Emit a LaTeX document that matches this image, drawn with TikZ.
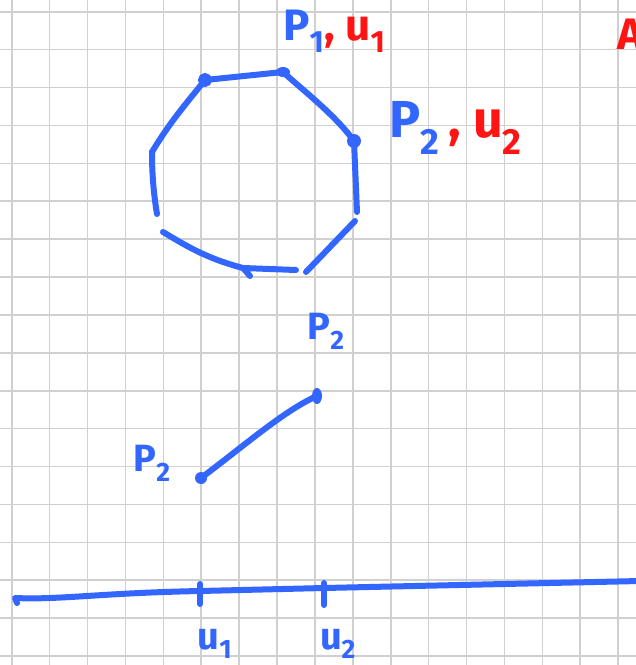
\documentclass[tikz,border=0pt]{standalone}
\usepackage{fontspec}
\setmainfont{Fira Sans}
\definecolor{pen}{HTML}{3366FF}
\definecolor{redpen}{HTML}{FF1414}
\definecolor{gridc}{HTML}{D0D0D0}
\begin{document}
\begin{tikzpicture}[x=1pt,y=-1pt,
  stroke/.style={draw=pen,line width=6pt,line cap=round,line join=round},
  dotmark/.style={fill=pen},
  biglbl/.style={inner sep=0pt,font=\fontsize{44}{48}\selectfont\bfseries},
  hugelbl/.style={inner sep=0pt,font=\fontsize{52}{56}\selectfont\bfseries},
  lbl/.style={inner sep=0pt,text=pen,font=\fontsize{38}{42}\selectfont\bfseries},
  gridline/.style={draw=gridc,line width=1.6pt}]
\useasboundingbox (0,0) rectangle (636,665);
\clip (0,0) rectangle (636,665);
\fill[white] (0,0) rectangle (636,665);
% grid
\foreach \i in {0,...,16} {\draw[gridline] ({11.7+37.9*\i},0) -- ({11.7+37.9*\i},665);}
\foreach \i in {0,...,17} {\draw[gridline] (0,{11.7+37.9*\i}) -- (636,{11.7+37.9*\i});}
% octagon vertices
\coordinate (v1) at (205,80);
\coordinate (v2) at (283,72);
\coordinate (v3) at (354,141);
\coordinate (v4) at (357,212);
\coordinate (v5) at (355,221);
\coordinate (v6) at (306,272);
\coordinate (b1) at (296,270);
\coordinate (b2) at (243,268);
\coordinate (b3) at (250,276);
\coordinate (l1) at (163,232);
\coordinate (l2) at (157,214);
\coordinate (l3) at (152,152);
% octagon strokes
\draw[stroke] (v1) -- (v2) .. controls (305,92) and (335,115) .. (v3) -- (v4);
\draw[stroke] (v5) -- (v6);
\draw[stroke] (b1) -- (b2) -- (b3);
\draw[stroke] (b2) .. controls (205,258) and (185,245) .. (l1);
\draw[stroke] (l2) .. controls (153,190) and (152,170) .. (l3);
\draw[stroke] (l3) .. controls (170,122) and (185,105) .. (v1);
\draw[stroke,line width=4pt] (v1) circle (5);
\fill[dotmark] (v2) ellipse (7 and 5);
\fill[dotmark] (v3) circle (7);
% labels near octagon
\node[biglbl,anchor=west] (lp1) at (283,31) {\textcolor{pen}{P\textsubscript{1}}\textcolor{redpen}{, u\textsubscript{1}}};
\node[hugelbl,anchor=west] (lp2) at (389,128) {\textcolor{pen}{P\textsubscript{2}}\textcolor{redpen}{\,, u\textsubscript{2}}};
\node[biglbl,anchor=base west,text=redpen] (la) at (617,49) {A};
% segment
\coordinate (s1) at (201,478);
\coordinate (s2) at (317,396);
\draw[stroke] (s1) .. controls (245,445) and (285,410) .. (s2);
\fill[dotmark] (s1) circle (6);
\fill[dotmark] (s2) ellipse (5 and 8);
\node[lbl] (sp2) at (326,331) {P\textsubscript{2}};
\node[lbl] (sp1) at (152,463) {P\textsubscript{2}};
% axis
\coordinate (a0) at (17,603);
\coordinate (a1) at (15,598);
\coordinate (t1) at (200,591);
\coordinate (t2) at (324,588);
\coordinate (a2) at (640,581);
\draw[stroke] (a0) -- (a1) .. controls (60,600) and (100,593) .. (t1) -- (t2) -- (a2);
\draw[stroke] (200,584) -- (200,604);
\draw[stroke] (324,583) -- (324,605);
\node[lbl] (u1) at (215,644) {u\textsubscript{1}};
\node[lbl] (u2) at (338,644) {u\textsubscript{2}};
\end{tikzpicture}
\end{document}
